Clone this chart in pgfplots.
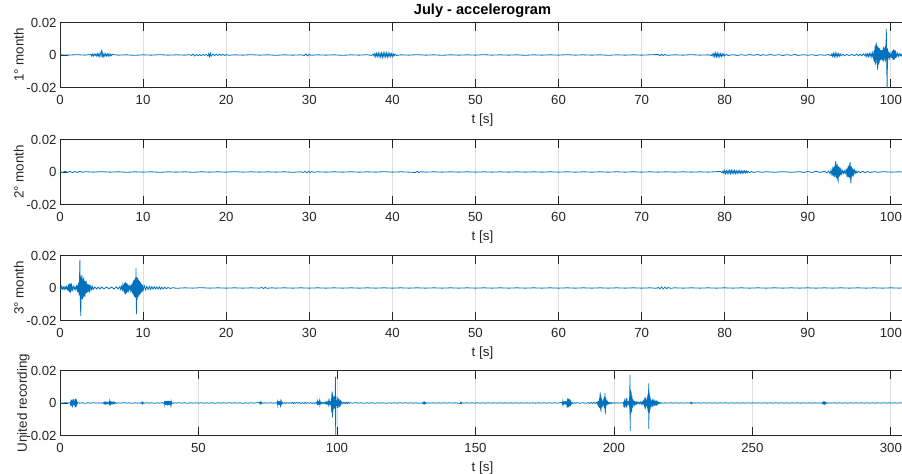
\documentclass[border=0pt]{standalone}
\usepackage{fontspec}
\setmainfont{Liberation Sans}
\usepackage{pgfplots}
\usepackage{pgfplotstable}
\pgfplotsset{compat=1.18}
\definecolor{mblue}{RGB}{0,114,189}
\definecolor{axgray}{RGB}{38,38,38}
\definecolor{gridgray}{RGB}{222,222,222}

\pgfplotstableread[row sep=\\]{
t y\\
0 0.0001\\ 1 -0.0001\\ 2 0.0002\\ 3 -0.0001\\ 3.5 0.0002\\
3.7 0.0004\\ 3.8 -0.0006\\ 3.9 0.0005\\ 4.0 -0.0007\\ 4.1 0.0006\\ 4.2 -0.0004\\ 4.3 0.0005\\ 4.4 -0.0006\\ 4.5 0.0007\\ 4.6 -0.0008\\ 4.7 0.0009\\ 4.8 -0.0010\\ 4.9 0.0012\\ 5.0 0.0025\\ 5.05 -0.0015\\ 5.1 0.0012\\ 5.2 -0.0011\\ 5.3 0.0009\\ 5.4 -0.0008\\ 5.5 0.0007\\ 5.6 -0.0006\\ 5.7 0.0007\\ 5.8 -0.0008\\ 5.9 0.0007\\ 6.0 -0.0006\\ 6.1 0.0005\\ 6.2 -0.0004\\ 6.3 0.0003\\
7 -0.0001\\ 8 0.0001\\ 9 -0.0002\\ 10 0.0001\\ 11 -0.0001\\ 12 0.0002\\ 13 -0.0001\\ 14 0.0001\\ 15 -0.0001\\ 15.6 0.0002\\
15.8 -0.0003\\ 16.0 0.0005\\ 16.2 -0.0006\\ 16.4 0.0004\\ 16.6 -0.0005\\ 16.8 0.0003\\ 17.0 -0.0004\\ 17.2 0.0003\\ 17.4 -0.0003\\ 17.6 0.0004\\ 17.8 -0.0006\\ 17.9 0.0008\\ 18.0 -0.0010\\ 18.1 0.0012\\ 18.2 -0.0007\\ 18.4 0.0005\\ 18.6 -0.0004\\ 18.8 0.0005\\ 19.0 -0.0004\\ 19.2 0.0005\\ 19.4 -0.0003\\ 19.6 0.0004\\ 19.8 -0.0003\\ 20.0 0.0003\\ 20.3 -0.0002\\
21 0.0001\\ 22 -0.0001\\ 23 0.0002\\ 24 -0.0001\\ 25 0.0001\\ 26 -0.0002\\ 27 0.0001\\ 28 -0.0001\\ 29 0.0001\\ 29.4 -0.0003\\ 29.6 0.0005\\ 29.8 -0.0005\\ 30.0 0.0004\\ 30.2 -0.0002\\ 31 0.0001\\ 32 -0.0001\\ 33 0.0001\\ 34 -0.0002\\ 35 0.0001\\ 36 -0.0001\\ 37 0.0002\\ 37.5 -0.0003\\
37.7 0.0006\\ 37.8 -0.0008\\ 37.9 0.0009\\ 38.0 -0.0010\\ 38.1 0.0011\\ 38.2 -0.0009\\ 38.3 0.0012\\ 38.4 -0.0011\\ 38.5 0.0010\\ 38.6 -0.0013\\ 38.7 0.0012\\ 38.8 -0.0014\\ 38.9 0.0013\\ 39.0 -0.0012\\ 39.1 0.0014\\ 39.2 -0.0011\\ 39.3 0.0012\\ 39.4 -0.0013\\ 39.5 0.0011\\ 39.6 -0.0010\\ 39.7 0.0011\\ 39.8 -0.0009\\ 39.9 0.0008\\ 40.0 -0.0009\\ 40.1 0.0007\\ 40.2 -0.0006\\ 40.3 0.0005\\ 40.5 -0.0003\\
41 0.0001\\ 42 -0.0001\\ 43 0.0002\\ 44 -0.0001\\ 45 0.0001\\ 46 -0.0002\\ 47 0.0001\\ 48 -0.0001\\ 49 0.0001\\ 50 -0.0001\\ 51 0.0002\\ 52 -0.0001\\ 53 0.0001\\ 54 -0.0001\\ 55 0.0001\\ 56 -0.0002\\ 57 0.0001\\ 58 -0.0001\\ 59 0.0001\\ 60 -0.0001\\ 61 0.0002\\ 62 -0.0001\\ 63 0.0001\\ 64 -0.0001\\ 65 0.0001\\ 66 -0.0002\\ 67 0.0001\\ 68 -0.0001\\ 69 0.0001\\ 70 -0.0001\\ 71 0.0001\\
72.0 0.0003\\ 72.2 -0.0005\\ 72.4 0.0005\\ 72.6 -0.0004\\ 72.8 0.0004\\ 73.0 -0.0002\\ 74 0.0001\\ 75 -0.0001\\ 76 0.0002\\ 77 -0.0001\\ 78 0.0001\\ 78.4 -0.0003\\
78.5 0.0006\\ 78.6 -0.0008\\ 78.7 0.0010\\ 78.8 -0.0011\\ 78.9 0.0012\\ 79.0 -0.0010\\ 79.1 0.0011\\ 79.2 -0.0012\\ 79.3 0.0009\\ 79.4 -0.0010\\ 79.5 0.0008\\ 79.6 -0.0009\\ 79.7 0.0007\\ 79.8 -0.0006\\ 79.9 0.0006\\ 80.0 -0.0005\\ 80.2 0.0004\\ 80.4 -0.0003\\
81 0.0002\\ 81.5 -0.0003\\ 82 0.0002\\ 82.5 -0.0002\\ 83 0.0003\\ 83.5 -0.0002\\ 84 0.0004\\ 84.3 -0.0004\\ 84.6 0.0002\\ 85 -0.0002\\ 85.5 0.0003\\ 86 -0.0002\\ 86.5 0.0002\\ 87 -0.0003\\ 87.5 0.0002\\ 88 -0.0002\\ 88.5 0.0004\\ 88.8 -0.0003\\ 89.5 0.0002\\ 90 -0.0002\\ 90.5 0.0002\\ 91 -0.0003\\ 91.5 0.0002\\ 92 -0.0002\\ 92.5 0.0003\\
92.8 -0.0005\\ 92.9 0.0007\\ 93.0 -0.0009\\ 93.1 0.0010\\ 93.2 -0.0011\\ 93.3 0.0012\\ 93.4 -0.0010\\ 93.5 0.0011\\ 93.6 -0.0009\\ 93.7 0.0008\\ 93.8 -0.0007\\ 93.9 0.0006\\ 94.0 -0.0005\\ 94.2 0.0004\\ 94.4 -0.0004\\ 94.7 0.0003\\ 95.0 -0.0004\\ 95.3 0.0004\\ 95.6 -0.0004\\ 95.9 0.0005\\ 96.1 -0.0005\\ 96.3 0.0006\\ 96.5 -0.0005\\ 96.7 0.0007\\ 96.9 -0.0006\\
97.0 0.0008\\ 97.1 -0.0009\\ 97.2 0.0007\\ 97.3 -0.0010\\ 97.4 0.0009\\ 97.5 -0.0008\\ 97.6 0.0011\\ 97.7 -0.0012\\ 97.8 0.0013\\ 97.9 -0.0020\\
98.0 0.0030\\ 98.05 -0.0045\\ 98.1 0.0055\\ 98.15 -0.0060\\ 98.2 0.0065\\ 98.25 0.0070\\ 98.3 -0.0050\\ 98.35 0.0055\\ 98.4 -0.0090\\ 98.45 0.0050\\ 98.5 -0.0060\\ 98.55 0.0045\\ 98.6 -0.0050\\ 98.65 0.0040\\ 98.7 -0.0035\\ 98.75 0.0030\\ 98.8 -0.0030\\ 98.85 0.0028\\ 98.9 -0.0025\\ 98.95 0.0030\\ 99.0 -0.0035\\ 99.05 0.0030\\ 99.1 0.0040\\ 99.15 -0.0035\\ 99.2 -0.0030\\ 99.25 0.0038\\ 99.3 0.0045\\ 99.35 -0.0030\\ 99.4 -0.0020\\ 99.45 0.0160\\ 99.5 -0.0040\\ 99.55 -0.0230\\ 99.6 0.0040\\ 99.65 -0.0030\\ 99.7 0.0020\\ 99.75 -0.0018\\ 99.8 0.0015\\ 99.85 -0.0012\\ 99.9 0.0010\\ 100.0 -0.0012\\ 100.1 0.0010\\ 100.15 -0.0018\\ 100.2 0.0025\\ 100.25 -0.0030\\ 100.3 0.0035\\ 100.35 -0.0028\\ 100.4 0.0030\\ 100.45 -0.0025\\ 100.5 0.0025\\ 100.55 -0.0018\\ 100.6 0.0015\\ 100.7 -0.0010\\ 100.8 0.0009\\ 100.9 -0.0008\\ 101.0 0.0007\\ 101.1 -0.0006\\ 101.2 0.0006\\ 101.3 -0.0005\\ 101.4 0.0005\\ 101.5 -0.0004\\ 101.6 0.0004\\ 101.7 -0.0003\\
}\tabA

\pgfplotstableread[row sep=\\]{
t y\\
0 0.0001\\ 0.3 -0.0003\\ 0.6 0.0004\\ 0.9 -0.0003\\ 1.2 0.0004\\ 1.5 -0.0004\\ 1.8 0.0003\\ 2.1 -0.0003\\ 2.4 0.0004\\ 2.7 -0.0002\\ 3 0.0002\\ 4 -0.0001\\ 5 0.0002\\ 6 -0.0001\\ 7 0.0001\\ 8 -0.0002\\ 9 0.0001\\ 10 -0.0001\\ 11 0.0001\\ 12 -0.0002\\ 13 0.0001\\ 14 -0.0001\\ 15 0.0001\\ 16 -0.0002\\ 17 0.0001\\ 18 -0.0001\\ 19 0.0001\\ 20 -0.0001\\ 21 0.0002\\ 22 -0.0001\\ 23 0.0001\\ 24 -0.0001\\ 25 0.0001\\ 26 -0.0001\\ 27 0.0001\\ 28 -0.0002\\ 29 0.0001\\
29.3 -0.0003\\ 29.5 0.0004\\ 29.7 -0.0005\\ 29.9 0.0005\\ 30.1 -0.0004\\ 30.3 0.0003\\ 30.5 -0.0002\\ 31 0.0001\\ 32 -0.0001\\ 33 0.0001\\ 34 -0.0001\\ 35 0.0001\\ 36 -0.0001\\ 37 0.0001\\ 38 -0.0001\\ 39 0.0002\\ 40 -0.0001\\ 41 0.0001\\ 42 -0.0001\\ 42.8 -0.0003\\ 43.0 0.0004\\ 43.2 -0.0004\\ 43.4 0.0002\\
44 -0.0001\\ 45 0.0001\\ 46 -0.0001\\ 47 0.0001\\ 48 -0.0001\\ 49 0.0001\\ 50 -0.0001\\ 51 0.0001\\ 52 -0.0001\\ 53 0.0001\\ 54 -0.0001\\ 55 0.0001\\ 56 -0.0001\\ 57 0.0001\\ 58 -0.0001\\ 59 0.0001\\ 60 -0.0001\\ 61 0.0001\\ 62 -0.0001\\ 63 0.0001\\ 64 -0.0001\\ 65 0.0001\\ 66 -0.0001\\ 67 0.0001\\ 68 -0.0001\\ 69 0.0001\\ 70 -0.0001\\ 71 0.0001\\ 72 -0.0001\\ 73 0.0001\\ 74 -0.0001\\ 75 0.0001\\ 76 -0.0001\\ 77 0.0001\\ 78 -0.0001\\ 79 0.0002\\ 79.5 0.0003\\
79.7 -0.0005\\ 79.8 0.0007\\ 79.9 -0.0008\\ 80.0 0.0009\\ 80.1 -0.0010\\ 80.2 0.0008\\ 80.3 -0.0009\\ 80.4 0.0010\\ 80.5 -0.0008\\ 80.6 0.0009\\ 80.7 -0.0010\\ 80.8 0.0011\\ 80.9 -0.0009\\ 81.0 0.0008\\ 81.1 -0.0009\\ 81.2 0.0010\\ 81.3 -0.0008\\ 81.4 0.0007\\ 81.5 -0.0009\\ 81.6 0.0008\\ 81.7 -0.0007\\ 81.8 0.0008\\ 81.9 -0.0007\\ 82.0 0.0006\\ 82.1 -0.0008\\ 82.2 0.0007\\ 82.3 -0.0006\\ 82.4 0.0007\\ 82.5 -0.0005\\ 82.6 0.0006\\ 82.7 -0.0005\\ 82.8 0.0004\\ 83.0 -0.0004\\ 83.2 0.0003\\ 83.5 -0.0003\\
84 0.0002\\ 84.5 -0.0002\\ 85 0.0002\\ 86 -0.0002\\ 87 0.0002\\ 88 -0.0002\\ 89 0.0002\\ 89.5 -0.0003\\ 90 0.0003\\ 90.5 -0.0003\\ 91 0.0004\\ 91.5 -0.0003\\ 92 0.0004\\ 92.3 -0.0005\\ 92.5 0.0006\\
92.7 -0.0010\\ 92.8 0.0012\\ 92.9 -0.0015\\ 93.0 0.0018\\ 93.05 -0.0022\\ 93.1 0.0028\\ 93.15 -0.0030\\ 93.2 0.0035\\ 93.25 -0.0028\\ 93.3 0.0040\\ 93.35 0.0065\\ 93.4 -0.0035\\ 93.45 0.0045\\ 93.5 -0.0040\\ 93.55 0.0050\\ 93.6 -0.0045\\ 93.65 -0.0055\\ 93.7 0.0035\\ 93.75 -0.0030\\ 93.8 0.0028\\ 93.85 -0.0025\\ 93.9 0.0020\\ 93.95 -0.0018\\ 94.0 0.0015\\ 94.1 -0.0012\\ 94.2 0.0009\\ 94.3 -0.0008\\ 94.4 0.0007\\ 94.5 -0.0009\\ 94.6 0.0012\\
94.7 -0.0018\\ 94.75 0.0022\\ 94.8 -0.0028\\ 94.85 0.0035\\ 94.9 -0.0030\\ 94.95 0.0040\\ 95.0 -0.0035\\ 95.05 0.0045\\ 95.1 0.0060\\ 95.15 -0.0040\\ 95.2 -0.0070\\ 95.25 0.0035\\ 95.3 -0.0030\\ 95.35 0.0025\\ 95.4 -0.0022\\ 95.45 0.0018\\ 95.5 -0.0015\\ 95.6 0.0012\\ 95.7 -0.0009\\ 95.8 0.0007\\ 95.9 -0.0006\\ 96.1 0.0005\\ 96.3 -0.0005\\ 96.6 0.0004\\ 96.9 -0.0004\\ 97.2 0.0003\\ 97.5 -0.0003\\ 98 0.0002\\ 98.5 -0.0002\\ 99 0.0002\\ 100 -0.0001\\ 101 0.0001\\ 101.7 -0.0001\\
}\tabB

\pgfplotstableread[row sep=\\]{
t y\\
0 0.0006\\ 0.1 -0.0008\\ 0.2 0.0010\\ 0.3 -0.0007\\ 0.4 0.0006\\ 0.5 -0.0009\\ 0.6 0.0008\\ 0.7 -0.0007\\ 0.8 0.0010\\ 0.9 -0.0009\\ 1.0 0.0012\\ 1.05 -0.0018\\ 1.1 0.0022\\ 1.15 -0.0025\\ 1.2 0.0030\\ 1.25 -0.0028\\ 1.3 0.0025\\ 1.35 -0.0020\\ 1.4 0.0015\\ 1.5 -0.0012\\ 1.6 0.0010\\ 1.7 -0.0009\\ 1.8 0.0008\\ 1.9 -0.0010\\ 2.0 0.0012\\ 2.1 -0.0014\\ 2.15 0.0018\\ 2.2 -0.0025\\ 2.25 0.0035\\ 2.3 -0.0045\\ 2.35 0.0060\\ 2.4 0.0175\\ 2.45 -0.0080\\ 2.5 -0.0172\\ 2.55 0.0070\\ 2.6 -0.0065\\ 2.65 0.0080\\ 2.7 -0.0070\\ 2.75 0.0055\\ 2.8 -0.0060\\ 2.85 0.0065\\ 2.9 -0.0050\\ 2.95 0.0045\\ 3.0 -0.0055\\ 3.05 0.0040\\ 3.1 -0.0035\\ 3.15 0.0045\\ 3.2 -0.0030\\ 3.25 0.0028\\ 3.3 -0.0025\\ 3.35 0.0022\\ 3.4 -0.0020\\ 3.45 0.0022\\ 3.5 -0.0025\\ 3.55 0.0018\\ 3.6 -0.0015\\
3.7 0.0012\\ 3.8 -0.0010\\ 3.9 0.0009\\ 4.0 -0.0008\\ 4.2 0.0006\\ 4.4 -0.0006\\ 4.6 0.0005\\ 4.8 -0.0006\\ 5.0 0.0005\\ 5.3 -0.0005\\ 5.6 0.0006\\ 5.9 -0.0005\\ 6.2 0.0006\\ 6.5 -0.0006\\ 6.8 0.0007\\ 7.0 -0.0006\\ 7.2 0.0008\\ 7.3 -0.0009\\ 7.4 0.0010\\
7.5 -0.0010\\ 7.55 0.0013\\ 7.6 -0.0015\\ 7.65 0.0020\\ 7.7 -0.0025\\ 7.75 0.0030\\ 7.8 -0.0035\\ 7.85 0.0038\\ 7.9 -0.0040\\ 7.95 0.0032\\ 8.0 -0.0030\\ 8.05 0.0028\\ 8.1 -0.0025\\ 8.15 0.0022\\ 8.2 -0.0020\\ 8.25 0.0016\\ 8.3 -0.0015\\ 8.4 0.0012\\ 8.5 -0.0014\\ 8.55 0.0018\\ 8.6 -0.0020\\ 8.65 0.0025\\ 8.7 -0.0030\\ 8.75 0.0035\\ 8.8 -0.0040\\ 8.85 0.0045\\ 8.9 -0.0050\\ 8.95 0.0052\\ 9.0 -0.0055\\ 9.05 0.0060\\ 9.1 -0.0060\\ 9.15 0.0120\\ 9.2 -0.0160\\ 9.25 0.0065\\ 9.3 -0.0070\\ 9.35 0.0060\\ 9.4 -0.0055\\ 9.45 0.0050\\ 9.5 -0.0045\\ 9.55 0.0042\\ 9.6 -0.0040\\ 9.65 0.0038\\ 9.7 -0.0035\\ 9.75 0.0030\\ 9.8 -0.0025\\ 9.85 0.0022\\ 9.9 -0.0020\\ 9.95 0.0018\\
10.0 -0.0015\\ 10.15 0.0013\\ 10.3 -0.0011\\ 10.45 0.0010\\ 10.6 -0.0009\\ 10.75 0.0009\\ 10.9 -0.0008\\ 11.05 0.0008\\ 11.2 -0.0007\\ 11.35 0.0007\\ 11.5 -0.0006\\ 11.65 0.0006\\ 11.8 -0.0006\\ 11.95 0.0007\\ 12.1 -0.0007\\ 12.25 0.0005\\ 12.4 -0.0005\\ 12.6 0.0004\\ 12.8 -0.0004\\ 13.0 0.0003\\ 13.3 -0.0003\\ 13.6 0.0002\\
14 -0.0002\\ 15 0.0001\\ 16 -0.0001\\ 17 0.0002\\ 18 -0.0001\\ 19 0.0001\\ 20 -0.0001\\ 21 0.0001\\ 22 -0.0001\\ 23 0.0001\\ 24 -0.0001\\ 24.3 0.0003\\ 24.5 -0.0004\\ 24.7 0.0004\\ 24.9 -0.0002\\ 25.5 0.0001\\ 26 -0.0001\\ 27 0.0001\\ 28 -0.0001\\ 29 0.0001\\ 30 -0.0001\\ 31 0.0001\\ 32 -0.0001\\ 33 0.0001\\ 34 -0.0001\\ 35 0.0001\\ 36 -0.0001\\ 37 0.0001\\ 38 -0.0001\\ 39 0.0001\\ 40 -0.0001\\ 41 0.0001\\ 42 -0.0001\\ 43 0.0001\\ 44 -0.0001\\ 45 0.0001\\ 46 -0.0001\\ 47 0.0001\\ 48 -0.0001\\ 49 0.0001\\ 50 -0.0001\\ 51 0.0001\\ 52 -0.0001\\ 53 0.0001\\ 54 -0.0001\\ 55 0.0001\\ 56 -0.0001\\ 57 0.0001\\ 58 -0.0001\\ 59 0.0001\\ 60 -0.0001\\ 61 0.0001\\ 62 -0.0001\\ 63 0.0001\\ 64 -0.0001\\ 65 0.0001\\ 66 -0.0001\\ 67 0.0001\\ 68 -0.0001\\ 69 0.0001\\ 70 -0.0001\\ 71 0.0001\\ 71.8 -0.0002\\
72.0 0.0004\\ 72.2 -0.0005\\ 72.4 0.0006\\ 72.6 -0.0006\\ 72.8 0.0005\\ 73.0 -0.0004\\ 73.2 0.0003\\ 73.5 -0.0002\\ 74 0.0001\\ 75 -0.0001\\ 76 0.0001\\ 77 -0.0001\\ 78 0.0001\\ 79 -0.0001\\ 80 0.0001\\ 81 -0.0001\\ 82 0.0001\\ 83 -0.0001\\ 84 0.0001\\ 85 -0.0001\\ 86 0.0001\\ 87 -0.0001\\ 88 0.0001\\ 89 -0.0001\\ 90 0.0001\\ 91 -0.0001\\ 92 0.0001\\ 93 -0.0001\\ 94 0.0001\\ 95 -0.0001\\ 96 0.0001\\ 97 -0.0001\\ 98 0.0001\\ 99 -0.0001\\ 100 0.0001\\ 101 -0.0001\\ 101.7 0.0001\\
}\tabC

\pgfplotsset{
  mpanel/.style={
    scale only axis,
    width=422.5pt, height=32.5pt,
    anchor=south west,
    xmin=0, ymin=-0.02, ymax=0.02,
    scaled y ticks=false, scaled x ticks=false,
    ytick={-0.02,0,0.02}, yticklabels={-0.02,0,0.02},
    ytick pos=left, xtick pos=both,
    tick align=inside,
    major tick length=4.2pt,
    xmajorgrids,
    grid style={gridgray, line width=0.4pt},
    axis line style={axgray, line width=0.4pt},
    every tick/.style={axgray, line width=0.4pt},
    tick label style={font=\fontsize{6.6}{7.5}\selectfont, text=axgray},
    label style={font=\fontsize{6.7}{7.5}\selectfont, text=axgray},
    xticklabel style={yshift=-0.5pt},
    yticklabel style={xshift=1.8pt},
    xlabel={t [s]},
    xlabel style={yshift=2.5pt},
  },
  sig/.style={mblue, line width=0.4pt, no markers},
}

\begin{document}
\begin{tikzpicture}
\path[use as bounding box] (0pt,0pt) rectangle (451pt,237pt);

\begin{axis}[mpanel, at={(30pt,193.25pt)}, xmax=101.7,
  xtick={0,10,20,30,40,50,60,70,80,90,100},
  xticklabels={0,10,20,30,40,50,60,70,80,90,100},
  ylabel={1° month}, ylabel style={yshift=-5.5pt},
  title={July - accelerogram},
  title style={at={(0.5,1)}, anchor=base, inner sep=0pt, yshift=-2.1pt,
    font=\bfseries\fontsize{7.3}{8.5}\selectfont, text=black}]
\addplot[sig] table[x=t,y=y] {\tabA};
\end{axis}

\begin{axis}[mpanel, at={(30pt,134.75pt)}, xmax=101.7,
  xtick={0,10,20,30,40,50,60,70,80,90,100},
  xticklabels={0,10,20,30,40,50,60,70,80,90,100},
  ylabel={2° month}, ylabel style={yshift=-5.5pt}]
\addplot[sig] table[x=t,y=y] {\tabB};
\end{axis}

\begin{axis}[mpanel, at={(30pt,76.75pt)}, xmax=101.7,
  xtick={0,10,20,30,40,50,60,70,80,90,100},
  xticklabels={0,10,20,30,40,50,60,70,80,90,100},
  ylabel={3° month}, ylabel style={yshift=-5.5pt}]
\addplot[sig] table[x=t,y=y] {\tabC};
\end{axis}

\begin{axis}[mpanel, at={(30pt,19.25pt)}, xmax=305.1,
  xtick={0,50,100,150,200,250,300},
  xticklabels={0,50,100,150,200,250,300},
  ylabel={United recording}, ylabel style={yshift=-8.5pt}]
\addplot[sig] table[x=t,y=y] {\tabA};
\addplot[sig] table[x expr=\thisrow{t}+101.7,y=y] {\tabB};
\addplot[sig] table[x expr=\thisrow{t}+203.4,y=y] {\tabC};
\end{axis}
\end{tikzpicture}
\end{document}
